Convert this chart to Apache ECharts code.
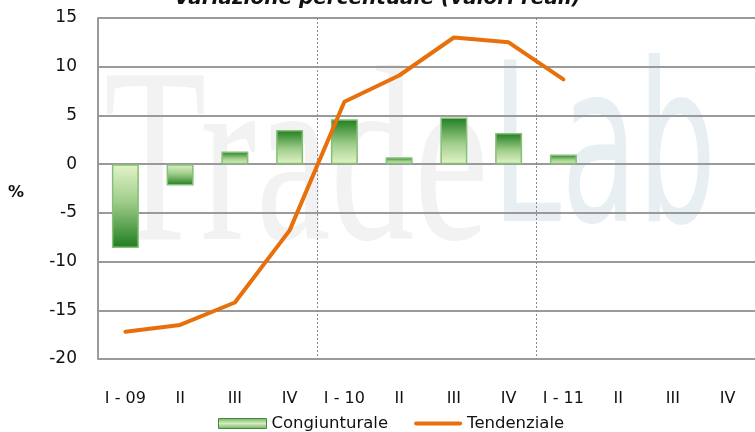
<!DOCTYPE html>
<html>
<head>
<meta charset="utf-8">
<script src="https://cdn.jsdelivr.net/npm/echarts@6/dist/echarts.min.js"></script>
<style>
  html, body { margin: 0; padding: 0; background: #fff; }
  #chart { width: 755px; height: 432px; }
</style>
</head>
<body>
<div id="chart"></div>
<script>
var quarters = ['I - 09', 'II', 'III', 'IV', 'I - 10', 'II', 'III', 'IV', 'I - 11', 'II', 'III', 'IV'];
var congiunturale = [-8.6, -2.2, 1.3, 3.5, 4.6, 0.7, 4.8, 3.2, 1.0, null, null, null];
var tendenziale = [-17.2, -16.5, -14.2, -6.8, 6.4, 9.1, 13.0, 12.5, 8.7, null, null, null];

function barFill(v) {
  var dark = '#1f7d1f', light = '#e4f3c9';
  var stops = v >= 0
    ? [{ offset: 0, color: dark }, { offset: 0.55, color: '#9fcd8a' }, { offset: 1, color: light }]
    : [{ offset: 0, color: light }, { offset: 0.45, color: '#9fcd8a' }, { offset: 1, color: dark }];
  return new echarts.graphic.LinearGradient(0, 0, 0, 1, stops);
}

var barData = congiunturale.map(function (v) {
  if (v === null) return null;
  return { value: v, itemStyle: { color: barFill(v) } };
});

var myChart = echarts.init(document.getElementById('chart'));
var font = 'DejaVu Sans';

myChart.setOption({
  animation: false,
  textStyle: { fontFamily: font },
  title: {
    text: 'Variazione percentuale (valori reali)',
    left: 'center',
    top: -16,
    textStyle: { fontFamily: font, fontSize: 20, fontWeight: 'bold', fontStyle: 'italic', color: '#111' }
  },
  graphic: [
    {
      type: 'text', z: -10, left: 104, top: 48, scaleX: 0.67,
      style: { text: 'Trade', font: '250px "Liberation Serif"', fill: '#f2f2f2' }
    },
    {
      type: 'text', z: -10, left: 492, top: 52, scaleX: 0.56,
      style: { text: 'Lab', font: '222px "DejaVu Sans"', fill: '#e7eff2' }
    },
    {
      type: 'text', left: 8, top: 185,
      style: { text: '%', font: 'bold 16px "DejaVu Sans"', fill: '#111' }
    }
  ],
  legend: {
    bottom: -5,
    left: 213,
    itemWidth: 48,
    itemHeight: 10,
    itemGap: 26,
    textStyle: { fontFamily: font, fontSize: 16.5, color: '#111' },
    data: [
      { name: 'Congiunturale', icon: 'rect', itemStyle: { color: new echarts.graphic.LinearGradient(0, 0, 0, 1, [{ offset: 0, color: '#6fb05f' }, { offset: 0.5, color: '#d6ecbf' }, { offset: 1, color: '#6fb05f' }]), borderColor: '#3f8f3a', borderWidth: 1 } },
      { name: 'Tendenziale', icon: 'path://M2,0 L46,0 C48.7,0 48.7,4 46,4 L2,4 C-0.7,4 -0.7,0 2,0 Z', itemStyle: { color: '#e8700c', borderWidth: 0 } }
    ]
  },
  grid: { left: 98, top: 18, width: 666, bottom: 73, containLabel: false },
  xAxis: [
    {
      type: 'category',
      data: quarters,
      axisLine: { show: false },
      axisTick: { show: false },
      axisLabel: { fontFamily: font, fontSize: 16, color: '#111', margin: 32, interval: 0 },
      splitLine: { show: false }
    },
    {
      type: 'value',
      min: 0, max: 12, interval: 4,
      show: true,
      position: 'bottom',
      axisLine: { show: false },
      axisTick: { show: false },
      axisLabel: { show: false },
      splitLine: { show: true, lineStyle: { color: '#8a8a8a', type: [2, 2], width: 1 } }
    }
  ],
  yAxis: {
    type: 'value',
    min: -20, max: 15, interval: 5,
    axisLine: { show: true, lineStyle: { color: '#9a9a9a', width: 2 } },
    axisTick: { show: false },
    axisLabel: { fontFamily: font, fontSize: 17, color: '#111', margin: 21 },
    splitLine: { lineStyle: { color: '#9a9a9a', width: 2 } }
  },
  series: [
    {
      name: 'Congiunturale',
      type: 'bar',
      xAxisIndex: 0,
      barWidth: 27,
      data: barData,
      itemStyle: { borderColor: '#86c078', borderWidth: 1.5 },
      z: 3
    },
    {
      name: 'Tendenziale',
      type: 'line',
      xAxisIndex: 0,
      data: tendenziale,
      symbol: 'none',
      lineStyle: { color: '#e8700c', width: 4, cap: 'round' },
      itemStyle: { color: '#e8700c' },
      z: 4
    }
  ]
});
</script>
</body>
</html>
